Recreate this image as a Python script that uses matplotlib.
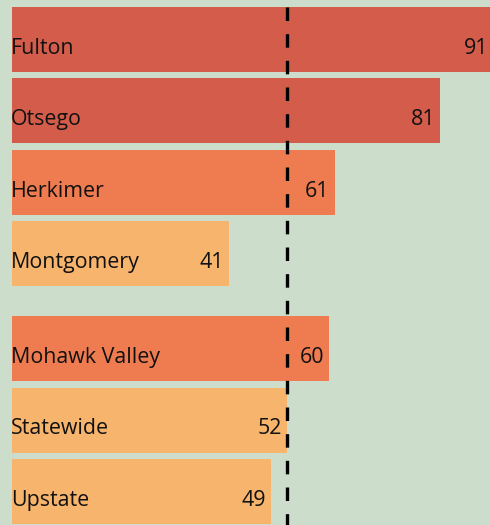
import matplotlib.pyplot as plt

counties = ["Fulton", "Otsego", "Herkimer", "Montgomery",
            "Mohawk Valley", "Statewide", "Upstate"]
values = [91, 81, 61, 41, 60, 52, 49]
# row positions, with a gap between the counties and the regional rows
rows = [0, 1, 2, 3, 4.33, 5.33, 6.33]
colors = ["#d35d4a", "#d35d4a", "#ee7c50", "#f7b46c",
          "#ee7c50", "#f7b46c", "#f7b46c"]
statewide = values[counties.index("Statewide")]

plt.rcParams["font.family"] = ["Open Sans", "DejaVu Sans"]

fig = plt.figure(figsize=(4.9, 5.25), dpi=100)
bg = "#ccddcb"
fig.patch.set_facecolor(bg)
ax = fig.add_axes([0, 0, 1, 1])
ax.set_facecolor(bg)

bar_h = 0.91
ax.barh(rows, values, height=bar_h, color=colors, zorder=1)

for y, name, v in zip(rows, counties, values):
    ax.annotate(name, (0, y), xytext=(-0.6, -10.4), textcoords="offset points",
                ha="left", va="baseline", fontsize=15.4, color="#111111",
                annotation_clip=False)
    ax.annotate(str(v), (v, y), xytext=(-3.8, -10.4), textcoords="offset points",
                ha="right", va="baseline", fontsize=15.4, color="#111111",
                annotation_clip=False)

ax.set_xlim(-2.27, 90.36)
ax.set_ylim(6.80, -0.553)

# statewide reference line, running from the top bar down past the bottom
ax.plot([statewide, statewide], [rows[0] - bar_h / 2, 7.5], color="black",
        lw=2.4, linestyle=(0, (4.05, 3.95)), zorder=3, clip_on=True)

ax.axis("off")
fig.savefig("out.png", dpi=100, facecolor=bg)
